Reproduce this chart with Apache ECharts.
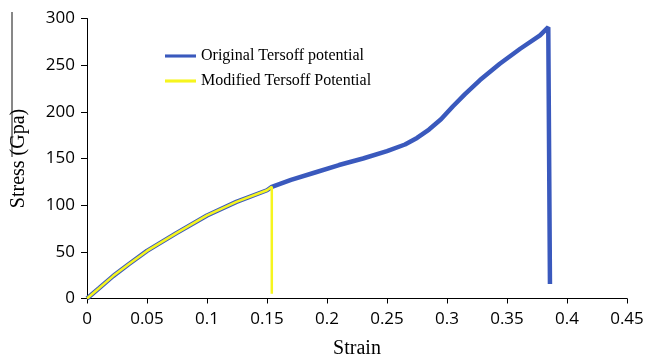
<!DOCTYPE html>
<html><head><meta charset="utf-8">
<script src="https://cdn.jsdelivr.net/npm/echarts@6/dist/echarts.min.js"></script>
<style>html,body{margin:0;padding:0;background:#fff}#c{width:648px;height:359px}</style>
</head><body><div id="c"></div>
<script>
const xTicks = [0, 0.05, 0.1, 0.15, 0.2, 0.25, 0.3, 0.35, 0.4, 0.45];
const yTicks = [0, 50, 100, 150, 200, 250, 300];
const originalStrain = [0, 0.01, 0.0217, 0.035, 0.05, 0.0745, 0.1, 0.1245, 0.15, 0.154, 0.17, 0.19, 0.21, 0.23, 0.25, 0.265, 0.275, 0.285, 0.295, 0.305, 0.315, 0.3275, 0.344, 0.361, 0.3775, 0.3844, 0.3858, 0.3858];
const originalStress = [0, 11, 24, 37, 51, 70, 89, 103.5, 116, 119.6, 127, 135, 143, 150, 158, 165, 172, 181, 192, 206, 219, 234, 251.5, 267.6, 282, 290.7, 292, 15.5];
const modifiedStrain = [0, 0.01, 0.0217, 0.035, 0.05, 0.0745, 0.1, 0.1245, 0.15, 0.154, 0.154];
const modifiedStress = [0, 11, 24, 37, 51, 70, 89, 103.5, 116, 119.6, 5];
const seriesNames = ['Original Tersoff potential', 'Modified Tersoff Potential'];

const chart = echarts.init(document.getElementById('c'));
const zip = (a, b) => a.map((v, i) => [v, b[i]]);
chart.setOption({
  animation: false,
  grid: {left: 87, right: 21, top: 18.5, bottom: 60.5, containLabel: false, outerBoundsMode: 'none'},
  legend: {
    left: 160, top: 43, orient: 'vertical', itemGap: 9,
    itemWidth: 31, itemHeight: 14, icon: 'path://M0,6 L30,6 L30,9 L0,9 Z',
    textStyle: {fontFamily: 'Liberation Serif', fontSize: 16, color: '#000'},
    data: seriesNames
  },
  xAxis: {
    type: 'value', min: 0, max: 0.45, interval: 0.05,
    name: 'Strain', nameLocation: 'middle', nameGap: 40,
    nameTextStyle: {fontFamily: 'Liberation Serif', fontSize: 20, color: '#000'},
    axisLine: {lineStyle: {color: '#000', width: 1}},
    axisTick: {show: true, length: 5, lineStyle: {color: '#000'}},
    axisLabel: {fontFamily: 'Open Sans', fontSize: 17, color: '#000', margin: 12,
      formatter: v => { const t = xTicks.find(k => Math.abs(k - v) < 1e-9); return t === undefined ? '' : String(t); }},
    splitLine: {show: false}
  },
  yAxis: {
    type: 'value', min: 0, max: 300, interval: 50,
    name: 'Stress (Gpa)', nameLocation: 'middle', nameGap: 58, nameRotate: 90,
    nameTextStyle: {fontFamily: 'Liberation Serif', fontSize: 20, color: '#000'},
    axisLine: {show: true, lineStyle: {color: '#000', width: 1}},
    axisTick: {show: true, length: 6, lineStyle: {color: '#000'}},
    axisLabel: {fontFamily: 'Open Sans', fontSize: 17, color: '#000', margin: 12,
      formatter: v => { const t = yTicks.find(k => Math.abs(k - v) < 1e-9); return t === undefined ? '' : String(t); }},
    splitLine: {show: false}
  },
  graphic: [{type: 'line', shape: {x1: 12, y1: 12, x2: 12, y2: 157}, style: {stroke: '#111', lineWidth: 1}}],
  series: [
    {name: seriesNames[0], type: 'line', data: zip(originalStrain, originalStress), showSymbol: false,
      lineStyle: {color: '#3a59bd', width: 4.5}, itemStyle: {color: '#3a59bd'}, z: 2},
    {name: seriesNames[1], type: 'line', data: zip(modifiedStrain, modifiedStress), showSymbol: false,
      lineStyle: {color: '#f6f51e', width: 2.5}, itemStyle: {color: '#f6f51e'}, z: 3}
  ]
});
</script></body></html>
